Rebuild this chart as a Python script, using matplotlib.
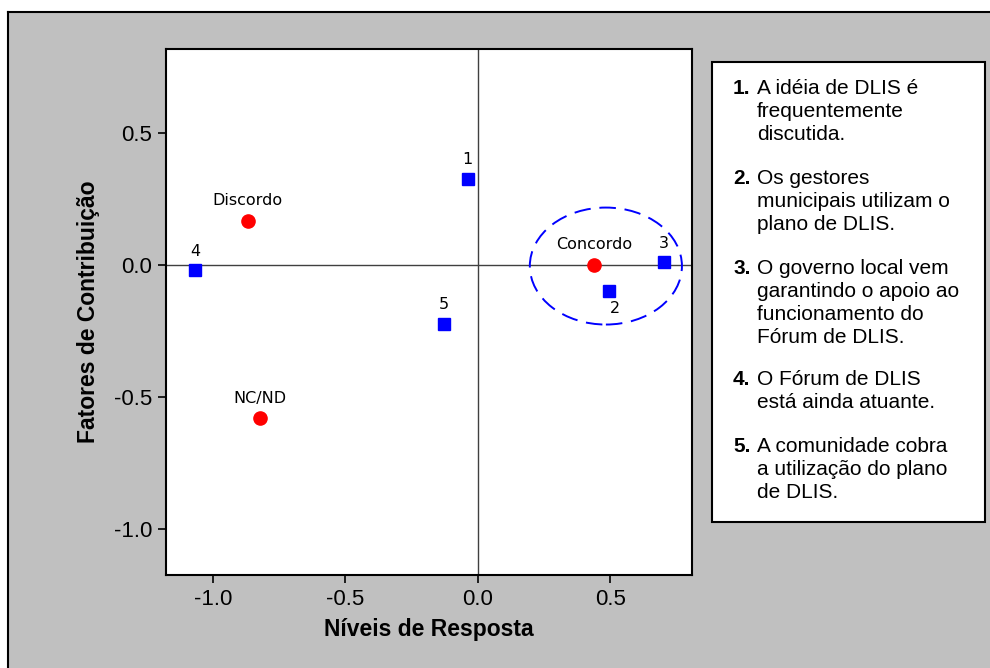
import matplotlib.pyplot as plt
from matplotlib.patches import Ellipse, Rectangle
from matplotlib.lines import Line2D

# categorias de resposta (pontos vermelhos)
resp_nomes = ["Discordo", "NC/ND", "Concordo"]
resp_x = [-0.868, -0.823, 0.438]
resp_y = [0.167, -0.580, 0.000]

# itens (quadrados azuis)
item_nomes = ["1", "2", "3", "4", "5"]
item_x = [-0.038, 0.494, 0.702, -1.068, -0.128]
item_y = [0.326, -0.098, 0.011, -0.019, -0.223]

# textos da legenda
legenda_num = ["1.", "2.", "3.", "4.", "5."]
legenda_txt = [
    "A idéia de DLIS é\nfrequentemente\ndiscutida.",
    "Os gestores\nmunicipais utilizam o\nplano de DLIS.",
    "O governo local vem\ngarantindo o apoio ao\nfuncionamento do\nFórum de DLIS.",
    "O Fórum de DLIS\nestá ainda atuante.",
    "A comunidade cobra\na utilização do plano\nde DLIS.",
]

W, H = 990, 668
fig = plt.figure(figsize=(W / 100, H / 100), dpi=100)
fig.patch.set_facecolor("white")

# painel cinza de fundo
fig.patches.append(Rectangle((8 / W, 0), 1 - 8 / W, 1 - 12 / H, transform=fig.transFigure,
                             facecolor="#c0c0c0", edgecolor="none", zorder=-2))
fig.lines.append(Line2D([8 / W, 8 / W], [0, 1 - 12 / H], transform=fig.transFigure,
                        color="black", lw=1.5, zorder=-1))
fig.lines.append(Line2D([8 / W, 1], [1 - 12 / H, 1 - 12 / H], transform=fig.transFigure,
                        color="black", lw=1.5, zorder=-1))

ax = fig.add_axes([166 / W, 1 - 575 / H, (692 - 166) / W, (575 - 49) / H])
ax.set_facecolor("white")
ax.set_xlim(-1.177, 0.808)
ax.set_ylim(-1.174, 0.818)

ax.axhline(0, color="#404040", lw=1, zorder=1)
ax.axvline(0, color="#404040", lw=1, zorder=1)

ax.plot(resp_x, resp_y, "o", color="red", markersize=9.5, linestyle="none", zorder=3)
ax.plot(item_x, item_y, "s", color="blue", markersize=8.5, linestyle="none", zorder=3)

for nome, x, y in zip(resp_nomes, resp_x, resp_y):
    ax.annotate(nome, (x, y), xytext=(0, 20), textcoords="offset pixels",
                ha="center", va="center", fontsize=11.5, family="DejaVu Sans")

offs = {"2": (6, -18)}
for nome, x, y in zip(item_nomes, item_x, item_y):
    dx, dy = offs.get(nome, (0, 19))
    ax.annotate(nome, (x, y), xytext=(dx, dy), textcoords="offset pixels",
                ha="center", va="center", fontsize=11.5, family="DejaVu Sans")

ell = Ellipse((0.483, -0.004), 0.574, 0.443, fill=False, edgecolor="blue",
              lw=1.4, linestyle=(0, (8.5, 4.5)), zorder=2)
ax.add_patch(ell)

ax.set_xticks([-1.0, -0.5, 0.0, 0.5])
ax.set_yticks([-1.0, -0.5, 0.0, 0.5])
ax.set_xticklabels(["-1.0", "-0.5", "0.0", "0.5"])
ax.set_yticklabels(["-1.0", "-0.5", "0.0", "0.5"])
ax.tick_params(direction="out", length=6, width=1.2, labelsize=16, pad=4)
for lab in ax.get_xticklabels() + ax.get_yticklabels():
    lab.set_family("Liberation Sans")
for s in ax.spines.values():
    s.set_linewidth(1.5)
    s.set_color("black")

ax.set_xlabel("Níveis de Resposta", fontsize=16.5, fontweight="bold",
              family="Liberation Sans", labelpad=6)
ax.set_ylabel("Fatores de Contribuição", fontsize=16.5, fontweight="bold",
              family="Liberation Sans", labelpad=10)

# caixa da legenda
fig.patches.append(Rectangle((712 / W, 1 - 522 / H), (985 - 712) / W, (522 - 62) / H,
                             transform=fig.transFigure, facecolor="white",
                             edgecolor="black", lw=1.5, zorder=1))
# linha de base da primeira linha de cada item (px); 'baseline' usa a ultima linha
bases = [94, 184, 274, 385, 452]
passo = 23
for num, txt, yb in zip(legenda_num, legenda_txt, bases):
    fig.text(733 / W, 1 - yb / H, num, ha="left", va="baseline", fontsize=15,
             fontweight="bold", family="Liberation Sans", zorder=2)
    ult = yb + txt.count("\n") * passo
    fig.text(757 / W, 1 - ult / H, txt, ha="left", va="baseline", fontsize=15,
             family="Liberation Sans", linespacing=1.26, zorder=2)

fig.savefig("out.png", dpi=100)
